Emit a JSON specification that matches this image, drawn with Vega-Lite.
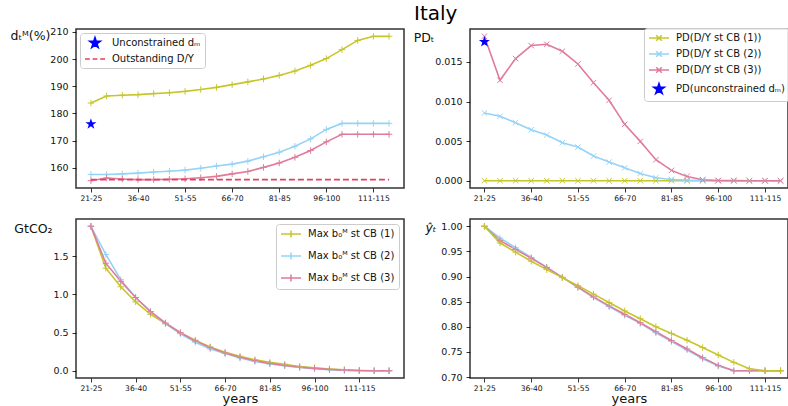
{
  "$schema": "https://vega.github.io/schema/vega-lite/v6.json",
  "padding": {"left": 9, "top": 4, "right": 0, "bottom": 0},
  "title": {"text": "Italy", "fontSize": 20, "font": "DejaVu Sans", "fontWeight": "normal", "anchor": "middle", "offset": 2, "dx": 36, "color": "#000000"},
  "config": {
    "font": "DejaVu Sans",
    "view": {"stroke": "#333333", "strokeWidth": 1.5},
    "axis": {"grid": false, "domain": false, "labelFont": "DejaVu Sans", "titleFont": "DejaVu Sans", "tickColor": "#000000", "labelColor": "#111111", "titleColor": "#111111", "titleFontWeight": "normal", "tickWidth": 0.8, "tickSize": 4, "labelOverlap": false},
    "axisX": {"labelFontSize": 7.6, "labelPadding": 2, "labelAngle": 0, "titleFontSize": 13, "titlePadding": 1},
    "axisY": {"labelFontSize": 9.5, "labelPadding": 4, "titleFontSize": 12.5, "titleAngle": 0, "titleAlign": "right", "titleBaseline": "middle", "tickCount": 12},
    "legend": {"labelFont": "DejaVu Sans", "labelFontSize": 10, "labelColor": "#111111", "symbolSize": 100, "symbolOffset": 5, "symbolStrokeWidth": 1.5, "padding": 4, "rowPadding": 4, "labelOffset": 11, "strokeColor": "#cccccc", "fillColor": "rgba(255,255,255,0.85)", "cornerRadius": 3, "offset": 5}
  },
  "datasets": {
    "dm": [
      {"p": "21-25", "s1": 183.8, "s2": 157.5, "s3": 155.2, "od": 155.6, "star": 176.1},
      {"p": "26-30", "s1": 186.4, "s2": 157.5, "s3": 156.2, "od": 155.6},
      {"p": "31-35", "s1": 186.7, "s2": 157.7, "s3": 155.8, "od": 155.6},
      {"p": "36-40", "s1": 186.9, "s2": 158.0, "s3": 155.6, "od": 155.6},
      {"p": "41-45", "s1": 187.3, "s2": 158.4, "s3": 155.6, "od": 155.6},
      {"p": "46-50", "s1": 187.6, "s2": 158.7, "s3": 155.7, "od": 155.6},
      {"p": "51-55", "s1": 188.1, "s2": 159.1, "s3": 155.9, "od": 155.6},
      {"p": "56-60", "s1": 188.8, "s2": 159.8, "s3": 156.3, "od": 155.6},
      {"p": "61-65", "s1": 189.6, "s2": 160.6, "s3": 156.8, "od": 155.6},
      {"p": "66-70", "s1": 190.6, "s2": 161.3, "s3": 157.7, "od": 155.6},
      {"p": "71-75", "s1": 191.6, "s2": 162.4, "s3": 158.6, "od": 155.6},
      {"p": "76-80", "s1": 192.7, "s2": 164.0, "s3": 160.1, "od": 155.6},
      {"p": "81-85", "s1": 194.0, "s2": 165.7, "s3": 161.7, "od": 155.6},
      {"p": "86-90", "s1": 195.6, "s2": 167.9, "s3": 163.8, "od": 155.6},
      {"p": "91-95", "s1": 197.7, "s2": 170.6, "s3": 166.3, "od": 155.6},
      {"p": "96-100", "s1": 200.2, "s2": 174.1, "s3": 169.5, "od": 155.6},
      {"p": "101-105", "s1": 203.5, "s2": 176.3, "s3": 172.3, "od": 155.6},
      {"p": "106-110", "s1": 206.9, "s2": 176.3, "s3": 172.3, "od": 155.6},
      {"p": "111-115", "s1": 208.4, "s2": 176.3, "s3": 172.3, "od": 155.6},
      {"p": "116-120", "s1": 208.4, "s2": 176.3, "s3": 172.3, "od": 155.6}
    ],
    "pd": [
      {"p": "21-25", "s1": 0, "s2": 0.00855, "s3": 0.01824, "star": 0.01752},
      {"p": "26-30", "s1": 0, "s2": 0.00813, "s3": 0.01268},
      {"p": "31-35", "s1": 0, "s2": 0.00733, "s3": 0.01542},
      {"p": "36-40", "s1": 0, "s2": 0.00644, "s3": 0.01706},
      {"p": "41-45", "s1": 0, "s2": 0.00577, "s3": 0.01723},
      {"p": "46-50", "s1": 0, "s2": 0.0048, "s3": 0.01634},
      {"p": "51-55", "s1": 0, "s2": 0.00425, "s3": 0.01474},
      {"p": "56-60", "s1": 0, "s2": 0.00312, "s3": 0.01238},
      {"p": "61-65", "s1": 0, "s2": 0.00236, "s3": 0.01015},
      {"p": "66-70", "s1": 0, "s2": 0.00164, "s3": 0.00712},
      {"p": "71-75", "s1": 0, "s2": 0.00093, "s3": 0.00497},
      {"p": "76-80", "s1": 0, "s2": 0.00038, "s3": 0.00265},
      {"p": "81-85", "s1": 0, "s2": 0.00017, "s3": 0.00131},
      {"p": "86-90", "s1": 0, "s2": 0.00008, "s3": 0.00055},
      {"p": "91-95", "s1": 0, "s2": 0.00004, "s3": 0.00013},
      {"p": "96-100", "s1": 0, "s2": 0.00001, "s3": 0.00004},
      {"p": "101-105", "s1": 0, "s2": 0, "s3": 0.00002},
      {"p": "106-110", "s1": 0, "s2": 0, "s3": 0},
      {"p": "111-115", "s1": 0, "s2": 0, "s3": 0},
      {"p": "116-120", "s1": 0, "s2": 0, "s3": 0}
    ],
    "co2": [
      {"p": "21-25", "s1": 1.894, "s2": 1.894, "s3": 1.894},
      {"p": "26-30", "s1": 1.344, "s2": 1.524, "s3": 1.41},
      {"p": "31-35", "s1": 1.101, "s2": 1.194, "s3": 1.172},
      {"p": "36-40", "s1": 0.903, "s2": 0.96, "s3": 0.96},
      {"p": "41-45", "s1": 0.74, "s2": 0.775, "s3": 0.775},
      {"p": "46-50", "s1": 0.617, "s2": 0.617, "s3": 0.626},
      {"p": "51-55", "s1": 0.498, "s2": 0.485, "s3": 0.498},
      {"p": "56-60", "s1": 0.401, "s2": 0.374, "s3": 0.392},
      {"p": "61-65", "s1": 0.313, "s2": 0.286, "s3": 0.304},
      {"p": "66-70", "s1": 0.242, "s2": 0.225, "s3": 0.233},
      {"p": "71-75", "s1": 0.189, "s2": 0.167, "s3": 0.176},
      {"p": "76-80", "s1": 0.145, "s2": 0.123, "s3": 0.132},
      {"p": "81-85", "s1": 0.11, "s2": 0.088, "s3": 0.097},
      {"p": "86-90", "s1": 0.084, "s2": 0.066, "s3": 0.07},
      {"p": "91-95", "s1": 0.057, "s2": 0.044, "s3": 0.048},
      {"p": "96-100", "s1": 0.04, "s2": 0.026, "s3": 0.031},
      {"p": "101-105", "s1": 0.022, "s2": 0.013, "s3": 0.018},
      {"p": "106-110", "s1": 0.013, "s2": 0.004, "s3": 0.009},
      {"p": "111-115", "s1": 0.004, "s2": 0, "s3": 0.004},
      {"p": "116-120", "s1": 0, "s2": 0, "s3": 0},
      {"p": "121-125", "s1": 0, "s2": 0, "s3": 0}
    ],
    "yh": [
      {"p": "21-25", "s1": 1.0, "s2": 1.0, "s3": 1.0},
      {"p": "26-30", "s1": 0.9666, "s2": 0.9766, "s3": 0.9713},
      {"p": "31-35", "s1": 0.9485, "s2": 0.9573, "s3": 0.9539},
      {"p": "36-40", "s1": 0.9305, "s2": 0.9379, "s3": 0.9365},
      {"p": "41-45", "s1": 0.9138, "s2": 0.9185, "s3": 0.9178},
      {"p": "46-50", "s1": 0.8978, "s2": 0.8984, "s3": 0.8984},
      {"p": "51-55", "s1": 0.8817, "s2": 0.8783, "s3": 0.879},
      {"p": "56-60", "s1": 0.865, "s2": 0.8583, "s3": 0.8596},
      {"p": "61-65", "s1": 0.8483, "s2": 0.8403, "s3": 0.8416},
      {"p": "66-70", "s1": 0.8316, "s2": 0.8229, "s3": 0.8249},
      {"p": "71-75", "s1": 0.8162, "s2": 0.8068, "s3": 0.8082},
      {"p": "76-80", "s1": 0.8001, "s2": 0.7881, "s3": 0.7901},
      {"p": "81-85", "s1": 0.7868, "s2": 0.7707, "s3": 0.7727},
      {"p": "86-90", "s1": 0.7734, "s2": 0.754, "s3": 0.756},
      {"p": "91-95", "s1": 0.7587, "s2": 0.7366, "s3": 0.7386},
      {"p": "96-100", "s1": 0.744, "s2": 0.7219, "s3": 0.7233},
      {"p": "101-105", "s1": 0.7293, "s2": 0.7126, "s3": 0.7126},
      {"p": "106-110", "s1": 0.7166, "s2": 0.7126, "s3": 0.7126},
      {"p": "111-115", "s1": 0.7126, "s2": 0.7126, "s3": 0.7126},
      {"p": "116-120", "s1": 0.7126, "s2": 0.7126, "s3": 0.7126}
    ]
  },
  "columns": 2,
  "spacing": {"row": 31, "column": 66},
  "bounds": "flush",
  "resolve": {"scale": {"fill": "independent", "stroke": "independent", "shape": "independent"}, "legend": {"fill": "independent", "stroke": "independent", "shape": "independent"}},
  "concat": [
    {
      "width": 328, "height": 159,
      "layer": [
        {
          "data": {"name": "dm"},
          "transform": [{"fold": ["s1", "s2", "s3"], "as": ["k", "val"]}],
          "mark": {"type": "line", "strokeWidth": 1.6, "point": {"shape": "M-1,0H1M0,-1V1", "filled": false, "size": 42, "strokeWidth": 1}},
          "encoding": {
            "x": {"field": "p", "type": "ordinal", "scale": {"type": "point", "domain": ["21-25","26-30","31-35","36-40","41-45","46-50","51-55","56-60","61-65","66-70","71-75","76-80","81-85","86-90","91-95","96-100","101-105","106-110","111-115","116-120"], "padding": 0.95}, "axis": {"values": ["21-25","36-40","51-55","66-70","81-85","96-100","111-115"], "title": null}},
            "y": {"field": "val", "type": "quantitative", "scale": {"domain": [152.5, 211.1], "nice": false, "zero": false}, "axis": {"values": [160,170,180,190,200,210], "tickCount": 12, "title": "dₜᴹ(%)", "titleX": -26, "titleY": 6}},
            "color": {"field": "k", "type": "nominal", "scale": {"domain": ["s1","s2","s3"], "range": ["#c6c62c","#95d3f7","#e07b9b"]}, "legend": null}
          }
        },
        {
          "data": {"name": "dm"},
          "mark": {"type": "line", "strokeWidth": 1.6, "strokeDash": [6, 3], "color": "#e3405f"},
          "encoding": {
            "x": {"field": "p", "type": "ordinal"},
            "y": {"field": "od", "type": "quantitative"}
          }
        },
        {
          "data": {"name": "dm"},
          "mark": {"type": "point", "filled": true, "color": "#0000ff", "opacity": 1, "size": 135, "shape": "M0,-1L0.225,-0.309L0.951,-0.309L0.363,0.118L0.588,0.809L0,0.382L-0.588,0.809L-0.363,0.118L-0.951,-0.309L-0.225,-0.309Z"},
          "encoding": {
            "x": {"field": "p", "type": "ordinal"},
            "y": {"field": "star", "type": "quantitative"}
          }
        },
        {
          "data": {"values": []},
          "mark": {"type": "point", "filled": true, "strokeWidth": 1.5, "opacity": 1},
          "encoding": {
            "shape": {"field": "label", "type": "nominal", "scale": {"domain": ["Unconstrained dₘ", "Outstanding D/Y"], "range": ["M0,-1.12L0.252,-0.346L1.066,-0.346L0.406,0.132L0.658,0.906L0,0.428L-0.658,0.906L-0.406,0.132L-1.066,-0.346L-0.252,-0.346Z", "M-2,0H-1.04M-0.48,0H0.48M1.04,0H2"]}, "legend": {"title": null, "orient": "top-left", "rowPadding": 2, "offset": 4}},
            "fill": {"field": "label", "type": "nominal", "scale": {"domain": ["Unconstrained dₘ", "Outstanding D/Y"], "range": ["#0000ff", "#e3405f"]}, "legend": {"title": null, "orient": "top-left", "rowPadding": 2, "offset": 4}},
            "stroke": {"field": "label", "type": "nominal", "scale": {"domain": ["Unconstrained dₘ", "Outstanding D/Y"], "range": ["#0000ff", "#e3405f"]}, "legend": {"title": null, "orient": "top-left", "rowPadding": 2, "offset": 4}}
          }
        }
      ]
    },
    {
      "width": 318, "height": 159,
      "layer": [
        {
          "data": {"name": "pd"},
          "transform": [{"fold": ["s1", "s2", "s3"], "as": ["k", "val"]}],
          "mark": {"type": "line", "strokeWidth": 1.6, "point": {"shape": "M-1,-1L1,1M-1,1L1,-1", "filled": false, "size": 30, "strokeWidth": 1}},
          "encoding": {
            "x": {"field": "p", "type": "ordinal", "scale": {"type": "point", "domain": ["21-25","26-30","31-35","36-40","41-45","46-50","51-55","56-60","61-65","66-70","71-75","76-80","81-85","86-90","91-95","96-100","101-105","106-110","111-115","116-120"], "padding": 0.7, "align": 0.66}, "axis": {"values": ["21-25","36-40","51-55","66-70","81-85","96-100","111-115"], "title": null}},
            "y": {"field": "val", "type": "quantitative", "scale": {"domain": [-0.000912, 0.01915], "nice": false, "zero": false}, "axis": {"values": [0, 0.005, 0.01, 0.015], "tickCount": 12, "format": ".3f", "title": "PDₜ", "titleX": -36, "titleY": 8}},
            "color": {"field": "k", "type": "nominal", "scale": {"domain": ["s1","s2","s3"], "range": ["#c6c62c","#95d3f7","#e07b9b"]}, "legend": null}
          }
        },
        {
          "data": {"name": "pd"},
          "mark": {"type": "point", "filled": true, "color": "#0000ff", "opacity": 1, "size": 135, "shape": "M0,-1L0.225,-0.309L0.951,-0.309L0.363,0.118L0.588,0.809L0,0.382L-0.588,0.809L-0.363,0.118L-0.951,-0.309L-0.225,-0.309Z"},
          "encoding": {
            "x": {"field": "p", "type": "ordinal"},
            "y": {"field": "star", "type": "quantitative"}
          }
        },
        {
          "data": {"values": []},
          "mark": {"type": "point", "filled": true, "strokeWidth": 1.5, "opacity": 1},
          "encoding": {
            "shape": {"field": "label", "type": "nominal", "scale": {"domain": ["PD(D/Y st CB (1))", "PD(D/Y st CB (2))", "PD(D/Y st CB (3))", "PD(unconstrained dₘ)"], "range": ["M-2,0H2M-0.56,-0.56L0.56,0.56M-0.56,0.56L0.56,-0.56", "M-2,0H2M-0.56,-0.56L0.56,0.56M-0.56,0.56L0.56,-0.56", "M-2,0H2M-0.56,-0.56L0.56,0.56M-0.56,0.56L0.56,-0.56", "M0,-1.12L0.252,-0.346L1.066,-0.346L0.406,0.132L0.658,0.906L0,0.428L-0.658,0.906L-0.406,0.132L-1.066,-0.346L-0.252,-0.346Z"]}, "legend": {"title": null, "orient": "top-right", "offset": -1}},
            "fill": {"field": "label", "type": "nominal", "scale": {"domain": ["PD(D/Y st CB (1))", "PD(D/Y st CB (2))", "PD(D/Y st CB (3))", "PD(unconstrained dₘ)"], "range": ["#c6c62c","#95d3f7","#e07b9b","#0000ff"]}, "legend": {"title": null, "orient": "top-right", "offset": -1}},
            "stroke": {"field": "label", "type": "nominal", "scale": {"domain": ["PD(D/Y st CB (1))", "PD(D/Y st CB (2))", "PD(D/Y st CB (3))", "PD(unconstrained dₘ)"], "range": ["#c6c62c","#95d3f7","#e07b9b","#0000ff"]}, "legend": {"title": null, "orient": "top-right", "offset": -1}}
          }
        }
      ]
    },
    {
      "width": 328, "height": 159,
      "layer": [
        {
          "data": {"name": "co2"},
          "transform": [{"fold": ["s1", "s2", "s3"], "as": ["k", "val"]}],
          "mark": {"type": "line", "strokeWidth": 1.6, "point": {"shape": "M-1,0H1M0,-1V1", "filled": false, "size": 42, "strokeWidth": 1}},
          "encoding": {
            "x": {"field": "p", "type": "ordinal", "scale": {"type": "point", "domain": ["21-25","26-30","31-35","36-40","41-45","46-50","51-55","56-60","61-65","66-70","71-75","76-80","81-85","86-90","91-95","96-100","101-105","106-110","111-115","116-120","121-125"], "padding": 1.0}, "axis": {"values": ["21-25","36-40","51-55","66-70","81-85","96-100","111-115"], "title": "years"}},
            "y": {"field": "val", "type": "quantitative", "scale": {"domain": [-0.0947, 1.989], "nice": false, "zero": false}, "axis": {"values": [0, 0.5, 1, 1.5], "tickCount": 12, "format": ".1f", "title": "GtCO₂", "titleX": -24, "titleY": 9}},
            "color": {"field": "k", "type": "nominal", "scale": {"domain": ["s1","s2","s3"], "range": ["#c6c62c","#95d3f7","#e07b9b"]}, "legend": null}
          }
        },
        {
          "data": {"values": []},
          "mark": {"type": "point", "filled": true, "strokeWidth": 1.5, "opacity": 1},
          "encoding": {
            "shape": {"field": "label", "type": "nominal", "scale": {"domain": ["Max b₀ᴹ st CB (1)", "Max b₀ᴹ st CB (2)", "Max b₀ᴹ st CB (3)"], "range": ["M-2,0H2M0,-0.7V0.7", "M-2,0H2M0,-0.7V0.7", "M-2,0H2M0,-0.7V0.7"]}, "legend": {"title": null, "orient": "top-right", "rowPadding": 8}},
            "fill": {"field": "label", "type": "nominal", "scale": {"domain": ["Max b₀ᴹ st CB (1)", "Max b₀ᴹ st CB (2)", "Max b₀ᴹ st CB (3)"], "range": ["#c6c62c","#95d3f7","#e07b9b"]}, "legend": {"title": null, "orient": "top-right", "rowPadding": 8}},
            "stroke": {"field": "label", "type": "nominal", "scale": {"domain": ["Max b₀ᴹ st CB (1)", "Max b₀ᴹ st CB (2)", "Max b₀ᴹ st CB (3)"], "range": ["#c6c62c","#95d3f7","#e07b9b"]}, "legend": {"title": null, "orient": "top-right", "rowPadding": 8}}
          }
        }
      ]
    },
    {
      "width": 318, "height": 159,
      "layer": [
        {
          "data": {"name": "yh"},
          "transform": [{"fold": ["s2", "s3", "s1"], "as": ["k", "val"]}],
          "mark": {"type": "line", "strokeWidth": 1.6, "point": {"shape": "M-1,0H1M0,-1V1", "filled": false, "size": 42, "strokeWidth": 1}},
          "encoding": {
            "x": {"field": "p", "type": "ordinal", "scale": {"type": "point", "domain": ["21-25","26-30","31-35","36-40","41-45","46-50","51-55","56-60","61-65","66-70","71-75","76-80","81-85","86-90","91-95","96-100","101-105","106-110","111-115","116-120"], "padding": 0.7, "align": 0.66}, "axis": {"values": ["21-25","36-40","51-55","66-70","81-85","96-100","111-115"], "title": "years"}},
            "y": {"field": "val", "type": "quantitative", "scale": {"domain": [0.6982, 1.0144], "nice": false, "zero": false}, "axis": {"values": [0.7, 0.75, 0.8, 0.85, 0.9, 0.95, 1.0], "tickCount": 12, "format": ".2f", "title": "ŷₜ", "titleFontStyle": "italic", "titleX": -34, "titleY": 8}},
            "color": {"field": "k", "type": "nominal", "scale": {"domain": ["s1","s2","s3"], "range": ["#c6c62c","#95d3f7","#e07b9b"]}, "legend": null}
          }
        }
      ]
    }
  ]
}
